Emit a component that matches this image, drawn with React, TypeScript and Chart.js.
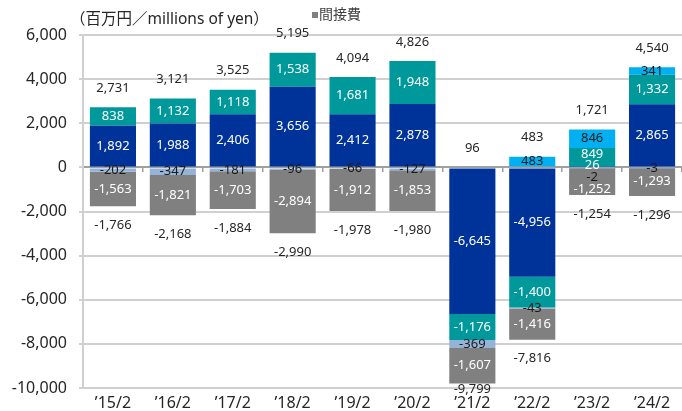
import React, { useEffect, useRef } from "react";
import { Chart, registerables } from "chart.js";

Chart.register(...registerables);

const categories = ["’15/2", "’16/2", "’17/2", "’18/2", "’19/2", "’20/2", "’21/2", "’22/2", "’23/2", "’24/2"];

const seriesDarkBlue = [1892, 1988, 2406, 3656, 2412, 2878, -6645, -4956, 26, 2865];
const seriesTeal = [838, 1132, 1118, 1538, 1681, 1948, -1176, -1400, 849, 1332];
const seriesCyan = [0, 0, 0, 0, 0, 0, 0, 483, 846, 341];
const seriesSteel = [-202, -347, -181, -96, -66, -127, -369, -43, -2, -3];
const seriesIndirect = [-1563, -1821, -1703, -2894, -1912, -1853, -1607, -1416, -1252, -1293];

const positiveTotals = [2731, 3121, 3525, 5195, 4094, 4826, 96, 483, 1721, 4540];
const negativeTotals = [-1766, -2168, -1884, -2990, -1978, -1980, -9799, -7816, -1254, -1296];

const yTicks = [-10000, -8000, -6000, -4000, -2000, 0, 2000, 4000, 6000];

const unitTitle = "（百万円／millions of yen）";
const legendName = "間接費";

const FONT = '"Noto Sans", "Noto Sans CJK JP", sans-serif';
const fmt = (v: number) => v.toLocaleString("en-US");

const labelColors = ["#ffffff", "#ffffff", "#1a1a1a", "#1a1a1a", "#ffffff"];

const labelPlugin = {
  id: "segLabels",
  afterDatasetsDraw(chart: any) {
    const ctx = chart.ctx;
    const yScale = chart.scales.y;
    const area = chart.chartArea;
    ctx.save();
    ctx.font = `13px ${FONT}`;
    ctx.textAlign = "center";
    ctx.textBaseline = "middle";
    for (let i = 0; i < categories.length; i++) {
      const items: any[] = [];
      let posSum = 0;
      let negSum = 0;
      let cx = 0;
      chart.data.datasets.forEach((ds: any, di: number) => {
        const v = ds.data[i];
        const el = chart.getDatasetMeta(di).data[i];
        cx = el.x;
        if (!v) return;
        if (v > 0) posSum += v;
        else negSum += v;
        const lo = Math.min(el.y, el.base);
        const hi = Math.max(el.y, el.base);
        items.push({ text: fmt(v), y: (lo + hi) / 2, x: el.x, lo, hi, color: labelColors[di] });
      });
      const gap = 12.5;
      for (let it = 0; it < 200; it++) {
        items.sort((a, b) => a.y - b.y);
        for (let k = 0; k < items.length - 1; k++) {
          const d = items[k + 1].y - items[k].y;
          if (d < gap) {
            const m = (gap - d) / 2;
            items[k].y -= m;
            items[k + 1].y += m;
          }
        }
        items.forEach((o) => {
          if (o.hi - o.lo > 12) o.y = Math.max(o.lo + 6, Math.min(o.hi - 6, o.y));
        });
      }
      items.forEach((o) => {
        ctx.fillStyle = o.color;
        ctx.fillText(o.text, o.x, o.y);
      });
      ctx.fillStyle = "#262626";
      const py = yScale.getPixelForValue(posSum) - 19;
      ctx.fillText(fmt(positiveTotals[i]), cx, py);
      const ny = Math.min(yScale.getPixelForValue(negSum) + 19, area.bottom + 1);
      ctx.fillText(fmt(negativeTotals[i]), cx, ny);
    }
    ctx.restore();
  },
  afterDraw(chart: any) {
    const ctx = chart.ctx;
    ctx.save();
    ctx.textBaseline = "middle";
    ctx.textAlign = "left";
    ctx.fillStyle = "#262626";
    ctx.font = `15.5px ${FONT}`;
    ctx.fillText(unitTitle, 70, 20);
    const ds = chart.data.datasets[4];
    ctx.fillStyle = ds.backgroundColor;
    ctx.fillRect(312, 12, 6, 6);
    ctx.fillStyle = "#404040";
    ctx.font = `14px ${FONT}`;
    ctx.fillText(ds.label, 319, 15);
    ctx.restore();
  },
};

export default function App() {
  const ref = useRef<HTMLCanvasElement>(null);
  useEffect(() => {
    if (!ref.current) return;
    const chart = new Chart(ref.current, {
      type: "bar",
      data: {
        labels: categories,
        datasets: [
          { label: "系列1", data: seriesDarkBlue, backgroundColor: "#00339a" },
          { label: "系列2", data: seriesTeal, backgroundColor: "#00999b" },
          { label: "系列3", data: seriesCyan, backgroundColor: "#00b0f0" },
          { label: "系列4", data: seriesSteel, backgroundColor: "#95b3d7" },
          { label: legendName, data: seriesIndirect, backgroundColor: "#808080" },
        ],
      },
      options: {
        responsive: false,
        animation: false,
        datasets: { bar: { categoryPercentage: 1, barPercentage: 0.77 } },
        layout: { padding: { top: 35, right: 0, bottom: 0, left: 0 } },
        plugins: { legend: { display: false }, tooltip: { enabled: false }, title: { display: false } },
        scales: {
          x: {
            stacked: true,
            grid: { display: false },
            border: { display: false },
            afterFit: (s: any) => {
              s.height = 23;
            },
            ticks: { font: { size: 16, family: FONT }, color: "#262626", padding: -2 },
          },
          x2: {
            axis: "x",
            type: "category",
            labels: categories,
            position: { y: 0 },
            offset: true,
            grid: { offset: true, drawOnChartArea: false, drawTicks: true, tickLength: 4, color: "#a0a0a0", lineWidth: 1.5 },
            border: { display: true, color: "#a0a0a0", width: 2 },
            ticks: { display: false },
          },
          y: {
            stacked: true,
            min: -10000,
            max: 6000,
            afterBuildTicks: (s: any) => {
              s.ticks = yTicks.map((v) => ({ value: v }));
            },
            afterFit: (s: any) => {
              s.width = 83;
            },
            ticks: {
              font: { size: 16, family: FONT },
              color: "#262626",
              padding: 12,
              callback: (v: any) => fmt(Number(v)),
            },
            grid: { color: "#d0d0d0", lineWidth: 2, tickLength: 4, drawTicks: true },
            border: { display: true, color: "#d0d0d0", width: 2 },
          },
        },
      },
      plugins: [labelPlugin],
    } as any);
    return () => chart.destroy();
  }, []);
  return (
    <div style={{ position: "fixed", left: 0, top: 0, width: 682, height: 411, background: "#fff" }}>
      <canvas ref={ref} width={682} height={411} />
    </div>
  );
}
